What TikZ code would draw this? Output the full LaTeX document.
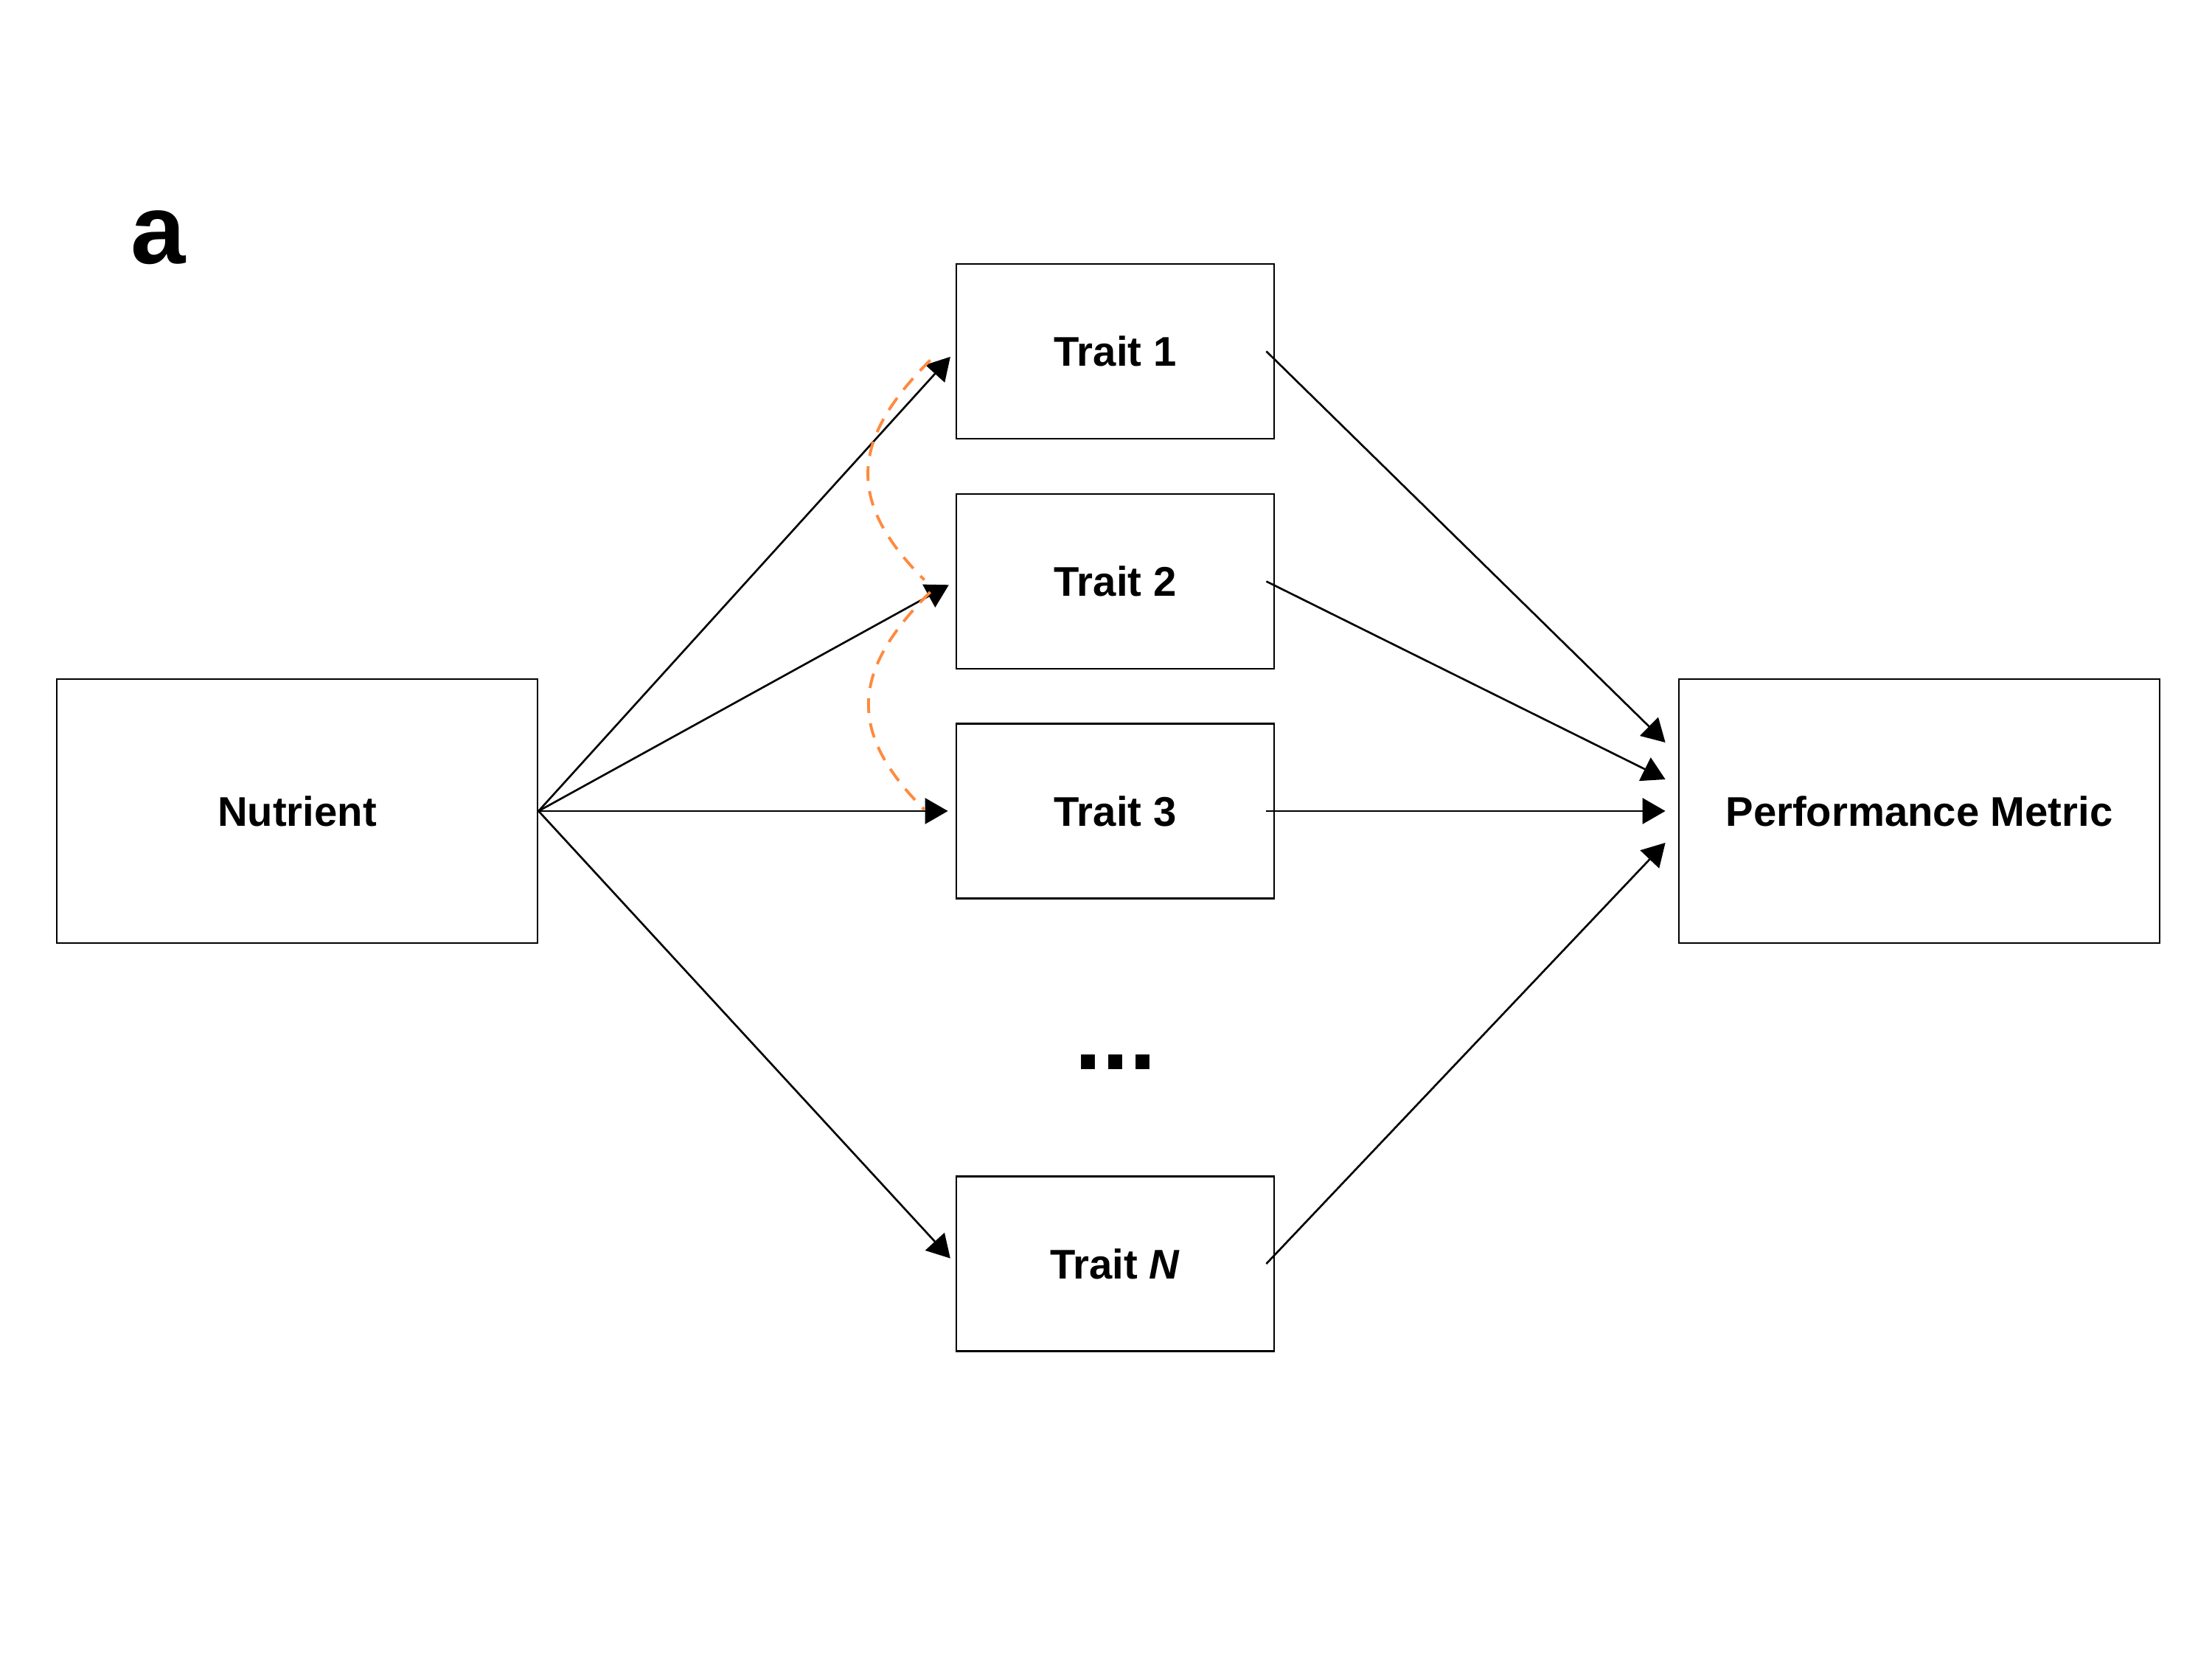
\documentclass[tikz,border=0pt]{standalone}
\usepackage{fontspec}
\setmainfont{Liberation Sans}
\usetikzlibrary{arrows.meta}
\definecolor{corrorange}{HTML}{FF8A3D}
\tikzstyle{bigbox} = [draw=black, line width=0.8pt, rectangle,
    minimum width=6.52cm, minimum height=3.58cm, font=\fontsize{16}{19}\selectfont\bfseries]
\tikzstyle{traitbox} = [draw=black, line width=0.8pt, rectangle,
    minimum width=4.31cm, minimum height=2.37cm, font=\fontsize{16}{19}\selectfont\bfseries]
\tikzstyle{link} = [-{Triangle[length=0.31cm, width=0.35cm]}, line width=0.75pt]
\tikzstyle{corr} = [corrorange, dash pattern=on 0.2cm off 0.14cm, line width=1.1pt]

\begin{document}
\begin{tikzpicture}
    \useasboundingbox (0,0) rectangle (30,22.5);
    \node[anchor=base, font=\fontsize{38}{40}\selectfont\bfseries] (panel) at (2.15,18.92) {a};
    \node [bigbox] (nutrient) at (4.03,11.5) {Nutrient};
    \node [traitbox] (trait1) at (15.125,17.735) {Trait 1};
    \node [traitbox] (trait2) at (15.125,14.615) {Trait 2};
    \node [traitbox] (trait3) at (15.125,11.5) {Trait 3};
    \node [traitbox] (traitN) at (15.125,5.36) {Trait \textit{N}};
    \node [bigbox] (perf) at (26.03,11.5) {Performance Metric};
    \node[anchor=base, font=\fontsize{38}{40}\selectfont\bfseries] (dots) at (15.13,7.99) {...};
    % nutrient -> traits
    \foreach \t in {trait1,trait2,trait3,traitN}
        \draw[link, shorten >=0.1cm] (nutrient.east) -- (\t.west);
    % traits -> performance
    \foreach \t/\dy in {trait1/0.93,trait2/0.43,trait3/0,traitN/-0.43}
        \draw[link] ([xshift=-0.12cm]\t.east) -- ([xshift=-0.17cm,yshift=\dy cm]perf.west);
    % correlations between traits
    \draw[corr] ([xshift=-0.34cm,yshift=-0.12cm]trait1.west) to[out=225,in=135,looseness=1.3] ([xshift=-0.42cm,yshift=0.02cm]trait2.west);
    \draw[corr] ([xshift=-0.34cm,yshift=-0.145cm]trait2.west) to[out=225,in=135,looseness=1.3] ([xshift=-0.42cm,yshift=0.02cm]trait3.west);
\end{tikzpicture}
\end{document}
